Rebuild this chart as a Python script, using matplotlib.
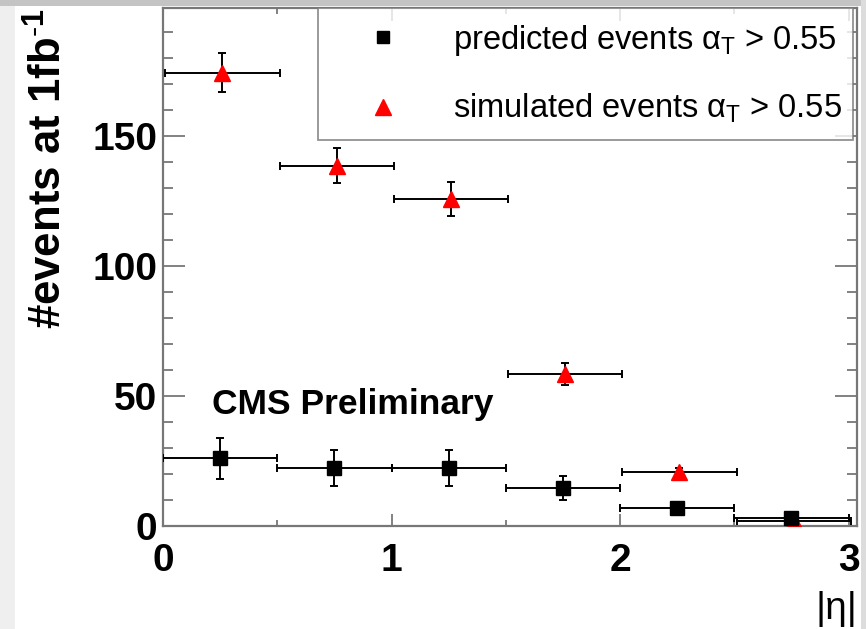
import matplotlib
matplotlib.use("Agg")
import matplotlib.pyplot as plt
from matplotlib.lines import Line2D
from matplotlib.patches import Rectangle
from matplotlib.ticker import MultipleLocator
import numpy as np

# |eta| binning and event yields at 1 fb^-1
bin_edges = [0.0, 0.5, 1.0, 1.5, 2.0, 2.5, 3.0]
predicted = [26.0, 22.3, 22.3, 14.6, 6.9, 3.0]
predicted_err = [8.0, 7.0, 7.0, 4.5, 1.5, 1.2]
simulated = [174.3, 138.6, 125.8, 58.5, 20.8, 2.0]
simulated_err = [7.5, 6.7, 6.6, 4.3, 1.5, 0.6]

label_pred = r"predicted events $\alpha_{\mathregular{T}}$ > 0.55"
label_sim = r"simulated events $\alpha_{\mathregular{T}}$ > 0.55"

plt.rcParams["font.family"] = ["Liberation Sans", "DejaVu Sans"]
plt.rcParams["mathtext.fontset"] = "custom"
plt.rcParams["mathtext.rm"] = "Liberation Sans"
plt.rcParams["mathtext.it"] = "Liberation Sans"
plt.rcParams["mathtext.bf"] = "Liberation Sans:bold"

edges = np.array(bin_edges)
centers = 0.5 * (edges[:-1] + edges[1:])
half_w = 0.5 * np.diff(edges)

fig = plt.figure(figsize=(8.66, 6.29), dpi=100)
fig.patch.set_facecolor("white")

# slide-style grey border around the canvas
fig.patches.append(Rectangle((0, 0), 15 / 866, 1, transform=fig.transFigure,
                             facecolor="#efefef", edgecolor="none", zorder=-10))
fig.patches.append(Rectangle((0, 1 - 6 / 629), 1, 6 / 629, transform=fig.transFigure,
                             facecolor="#c4c4c4", edgecolor="none", zorder=-9))
fig.patches.append(Rectangle((1 - 5 / 866, 0), 5 / 866, 1, transform=fig.transFigure,
                             facecolor="#dcdcdc", edgecolor="none", zorder=-9))

ax = fig.add_axes([163 / 866, 1 - 526 / 629, 694 / 866, 518 / 629])

err_kw = dict(elinewidth=1.4, capsize=3, capthick=1.4, ecolor="black",
              linestyle="none")
sim_shift = 0.01
ax.errorbar(centers + sim_shift, simulated, xerr=half_w, yerr=simulated_err,
            marker="^", markersize=12, markerfacecolor="red",
            markeredgecolor="red", zorder=3, **err_kw)
ax.errorbar(centers, predicted, xerr=half_w, yerr=predicted_err,
            marker="s", markersize=10, markerfacecolor="black",
            markeredgecolor="black", zorder=4, **err_kw)

ax.set_xlim(0, 3.037)
ax.set_ylim(0, 199.2)

ax.xaxis.set_major_locator(MultipleLocator(1))
ax.xaxis.set_minor_locator(MultipleLocator(0.5))
ax.yaxis.set_major_locator(MultipleLocator(50))
ax.yaxis.set_minor_locator(MultipleLocator(10))

frame_col = "#777777"
for s in ax.spines.values():
    s.set_color(frame_col)
    s.set_linewidth(1.6)

ax.tick_params(axis="y", which="major", direction="in", length=15.5, width=1.3,
               color=frame_col, left=True, right=True, labelsize=28, pad=4)
ax.tick_params(axis="y", which="minor", direction="in", length=7.5, width=1.3,
               color=frame_col, left=True, right=True)
ax.tick_params(axis="x", which="major", direction="in", length=9, width=1.3,
               color=frame_col, bottom=True, top=True, labelsize=28, pad=12)
ax.tick_params(axis="x", which="minor", direction="in", length=4, width=1.3,
               color=frame_col, bottom=True, top=True)
for lab in ax.get_xticklabels() + ax.get_yticklabels():
    lab.set_fontweight("bold")

ax.set_ylabel(r"#events at 1fb$^{\mathbf{\text{-}1}}$", fontsize=31.5,
              fontweight="bold", loc="top", labelpad=16)
ax.set_xlabel("|η|", fontsize=28, loc="right", labelpad=9)

ax.text(0.07, 0.234, "CMS Preliminary", transform=ax.transAxes,
        fontsize=25.5, fontweight="bold", ha="left", va="center")

handles = [
    Line2D([], [], marker="s", color="black", linestyle="none", markersize=9),
    Line2D([], [], marker="^", color="red", linestyle="none", markersize=11),
]
leg = ax.legend(handles, [label_pred, label_sim], loc="upper left",
                bbox_to_anchor=(0.223, 0.759, 0.771, 0.241), mode="expand",
                fontsize=23.5, frameon=True, fancybox=False, borderpad=0.45,
                labelspacing=1.05, handlelength=3.1, handletextpad=0.6,
                borderaxespad=0.0)
leg.get_frame().set_edgecolor(frame_col)
leg.get_frame().set_linewidth(1.3)

fig.savefig("out.png", dpi=100, facecolor=fig.get_facecolor())
